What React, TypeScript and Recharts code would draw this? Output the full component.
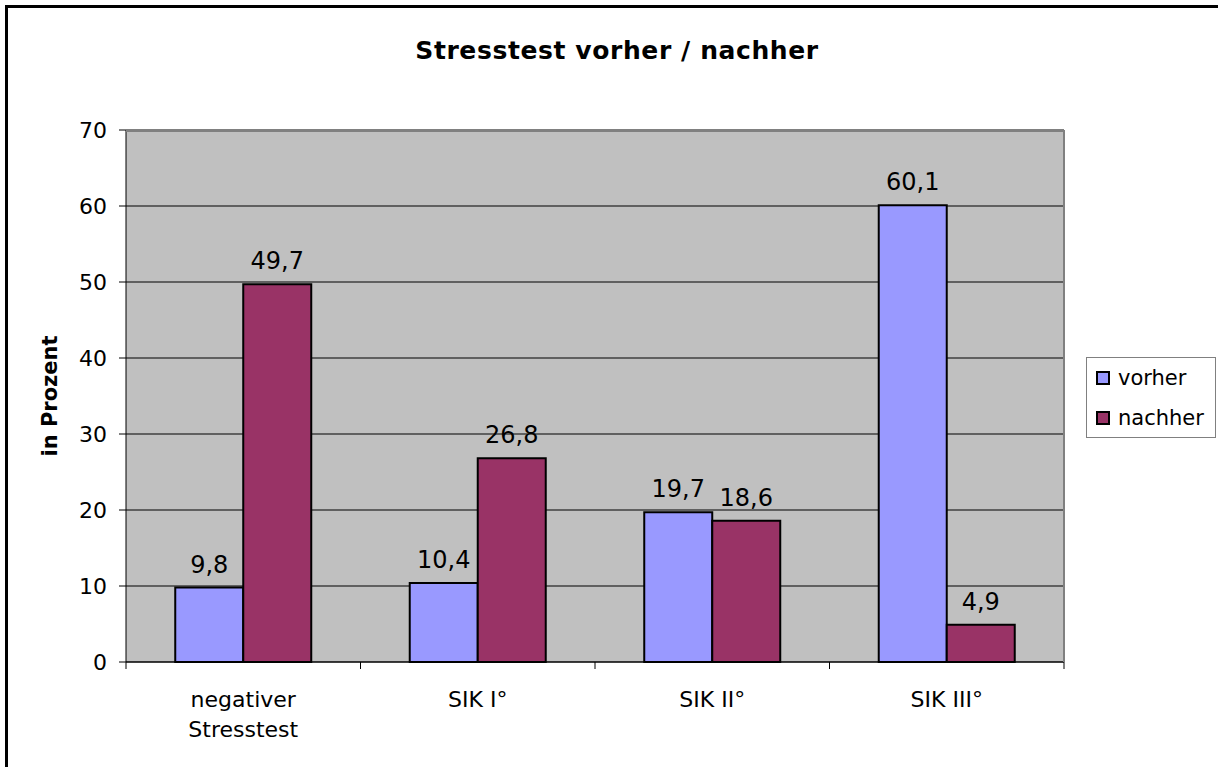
import { BarChart, Bar, XAxis, YAxis, CartesianGrid, Legend, LabelList } from 'recharts'

const categories = ['negativer Stresstest', 'SIK I°', 'SIK II°', 'SIK III°']
const vorher = [9.8, 10.4, 19.7, 60.1]
const nachher = [49.7, 26.8, 18.6, 4.9]
const yTicks = [0, 10, 20, 30, 40, 50, 60, 70]

const seriesColors = { vorher: '#9999FF', nachher: '#993366' }

const data = categories.map((name, i) => ({ name, vorher: vorher[i], nachher: nachher[i] }))

const FONT = '"DejaVu Sans", Arial, sans-serif'

const commaFormat = (v: number) => String(v).replace('.', ',')

// excel style: tick marks sit between categories, labels may wrap
function CategoryTick(props: any) {
  const { x, y, payload, width, index } = props
  const band = width / categories.length
  const axisY = y - 8
  const words = String(payload.value).startsWith('negativer')
    ? ['negativer', 'Stresstest']
    : [payload.value]
  return (
    <g>
      <line x1={x - band / 2} y1={axisY} x2={x - band / 2} y2={axisY + 7} stroke="#000" />
      {index === categories.length - 1 && (
        <line x1={x + band / 2} y1={axisY} x2={x + band / 2} y2={axisY + 7} stroke="#000" />
      )}
      {words.map((w, i) => (
        <text key={w} x={x} y={axisY + 45 + i * 30} textAnchor="middle" fontSize={22} fontFamily={FONT} fill="#000">
          {w}
        </text>
      ))}
    </g>
  )
}

function LegendBox() {
  const items = [
    { label: 'vorher', color: seriesColors.vorher },
    { label: 'nachher', color: seriesColors.nachher },
  ]
  return (
    <div
      style={{
        width: 130,
        height: 81,
        border: '1px solid #808080',
        background: '#fff',
        fontFamily: FONT,
        fontSize: 21,
        boxSizing: 'border-box',
      }}
    >
      {items.map((it) => (
        <div key={it.label} style={{ display: 'flex', alignItems: 'center', height: 40, paddingLeft: 9 }}>
          <span
            style={{
              display: 'inline-block',
              width: 10,
              height: 10,
              background: it.color,
              border: '2px solid #000',
              marginRight: 8,
            }}
          />
          <span>{it.label}</span>
        </div>
      ))}
    </div>
  )
}

export default function App() {
  return (
    <div style={{ position: 'absolute', left: 0, top: 0, width: 1218, height: 767, overflow: 'hidden', background: '#fff' }}>
      <div
        style={{
          position: 'absolute',
          left: 5,
          top: 5,
          width: 1300,
          height: 900,
          border: '3px solid #000',
        }}
      />
      <div
        style={{
          position: 'absolute',
          left: 0,
          width: 1234,
          top: 38,
          lineHeight: 1,
          textAlign: 'center',
          fontFamily: FONT,
          fontWeight: 'bold',
          fontSize: 25,
          letterSpacing: 0.6,
        }}
      >
        Stresstest vorher / nachher
      </div>
      <BarChart
        width={1218}
        height={767}
        data={data}
        margin={{ top: 130, right: 24, bottom: 0, left: 66 }}
        barCategoryGap="21%"
        barGap={0}
        style={{ position: 'absolute', left: 0, top: 0 }}
      >
        <CartesianGrid vertical={false} stroke="#000" fill="#C0C0C0" fillOpacity={1} />
        <XAxis
          dataKey="name"
          interval={0}
          tickLine={false}
          axisLine={{ stroke: '#000' }}
          tick={<CategoryTick />}
          height={105}
        />
        <YAxis
          width={60}
          domain={[0, 70]}
          ticks={yTicks}
          interval={0}
          tickSize={7}
          tickMargin={12}
          axisLine={{ stroke: '#000' }}
          tickLine={{ stroke: '#000' }}
          tick={{ fill: '#000', fontSize: 22, fontFamily: FONT }}
          label={{
            content: () => (
              <text
                x={57}
                y={396}
                transform="rotate(-90 57 396)"
                textAnchor="middle"
                fontFamily={FONT}
                fontWeight="bold"
                fontSize={21}
                fill="#000"
              >
                in Prozent
              </text>
            ),
          }}
        />
        <Legend
          layout="vertical"
          align="right"
          verticalAlign="middle"
          content={() => <LegendBox />}
          wrapperStyle={{ position: 'absolute', left: 1086, top: 357, width: 130, height: 81 }}
        />
        <Bar dataKey="vorher" name="vorher" fill={seriesColors.vorher} stroke="#000" strokeWidth={2} isAnimationActive={false}>
          <LabelList dataKey="vorher" position="top" offset={15} formatter={commaFormat} fill="#000" fontSize={24} fontFamily={FONT} />
        </Bar>
        <Bar dataKey="nachher" name="nachher" fill={seriesColors.nachher} stroke="#000" strokeWidth={2} isAnimationActive={false}>
          <LabelList dataKey="nachher" position="top" offset={15} formatter={commaFormat} fill="#000" fontSize={24} fontFamily={FONT} />
        </Bar>
      </BarChart>
      <div
        style={{
          position: 'absolute',
          left: 126,
          top: 130,
          width: 939,
          height: 532,
          borderTop: '2px solid #808080',
          borderRight: '2px solid #808080',
          boxSizing: 'border-box',
          pointerEvents: 'none',
        }}
      />
    </div>
  )
}
